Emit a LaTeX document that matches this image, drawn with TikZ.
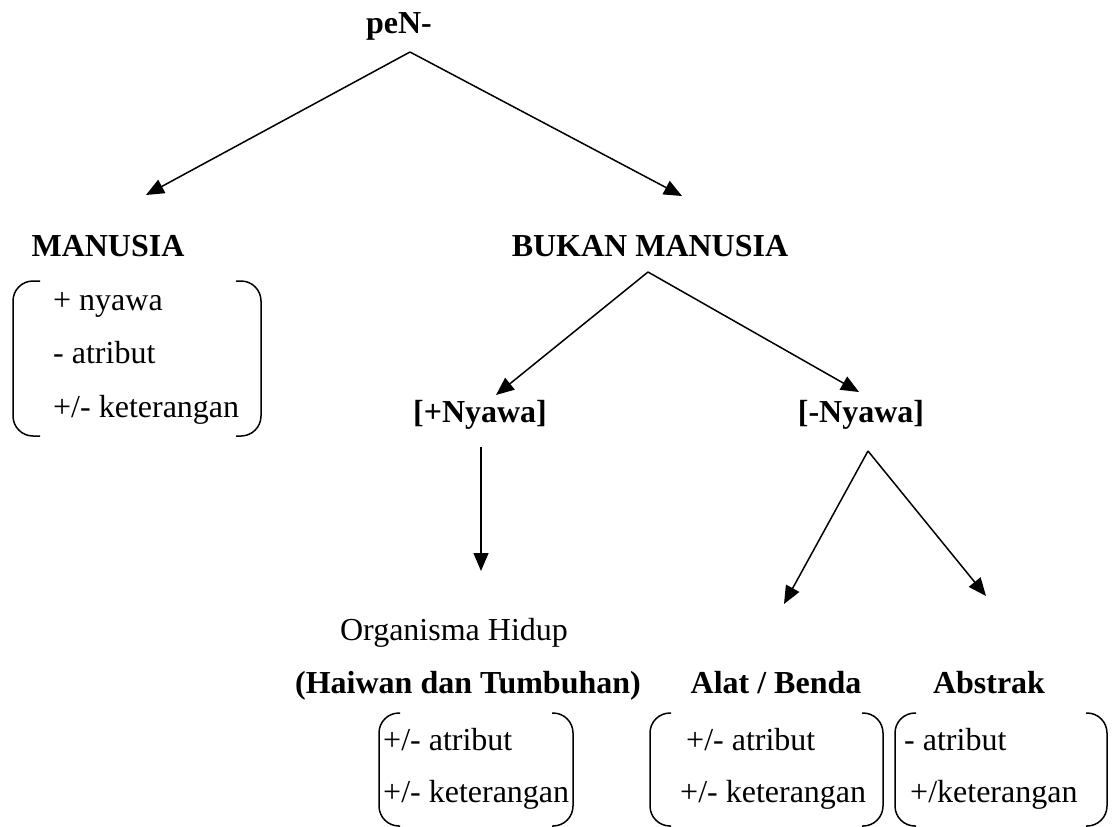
\documentclass[tikz,border=0pt]{standalone}
\usepackage{fontspec}
\setmainfont{Liberation Serif}
\usetikzlibrary{arrows.meta}
\begin{document}
\begin{tikzpicture}[x=1pt,y=-1pt,
  txt/.style={font=\fontsize{32}{38}\selectfont, inner sep=0pt, anchor=base},
  ltxt/.style={txt, anchor=base west},
  btxt/.style={txt, font=\fontsize{32}{38}\selectfont\bfseries},
  conn/.style={line width=1.5pt, -{Triangle[length=18pt,width=15pt]}},
  brk/.style={line width=1.5pt, rounded corners=20pt}]
\useasboundingbox (0,0) rectangle (1112,827);
% titles
\node[btxt] (pen) at (399,33) {peN-};
\node[btxt] (man) at (108,256) {MANUSIA};
\node[btxt] (bukan) at (650,256) {BUKAN MANUSIA};
\node[btxt] (plusn) at (480,422) {[+Nyawa]};
\node[btxt] (minn) at (861,422) {[-Nyawa]};
\node[txt] (org) at (454,640) {Organisma Hidup};
\node[btxt] (hai) at (468,693) {(Haiwan dan Tumbuhan)};
\node[btxt] (alat) at (776,693) {Alat / Benda};
\node[btxt] (abs) at (989,693) {Abstrak};
% box 1
\node[ltxt] (m1) at (53,310) {+ nyawa};
\node[ltxt] (m2) at (53,363) {- atribut};
\node[ltxt] (m3) at (53,417) {+/- keterangan};
\draw[brk] (40,281) -- (13,281) -- (13,436) -- (40,436);
\draw[brk] (236,281) -- (261,281) -- (261,436) -- (236,436);
% box 2
\node[ltxt] (h1) at (383,750) {+/- atribut};
\node[ltxt] (h2) at (383,802) {+/- keterangan};
\draw[brk] (400,713) -- (379,713) -- (379,826) -- (400,826);
\draw[brk] (552,713) -- (573,713) -- (573,826) -- (552,826);
% box 3
\node[ltxt] (a1) at (686,750) {+/- atribut};
\node[ltxt] (a2) at (680,802) {+/- keterangan};
\draw[brk] (671,713) -- (650,713) -- (650,826) -- (671,826);
\draw[brk] (862,713) -- (883,713) -- (883,826) -- (862,826);
% box 4
\node[ltxt] (b1) at (904,750) {- atribut};
\node[ltxt] (b2) at (910,802) {+/keterangan};
\draw[brk] (916,713) -- (895,713) -- (895,826) -- (916,826);
\draw[brk] (1086,713) -- (1107,713) -- (1107,826) -- (1086,826);
% connector points
\coordinate (penapex) at (410,52);
\coordinate (mantip) at (146,195);
\coordinate (bukantip) at (682,196);
\coordinate (bukapex) at (648,272);
\coordinate (plustip) at (496,395);
\coordinate (mintip) at (859,392);
\coordinate (downtop) at (481,447);
\coordinate (downtip) at (481,571);
\coordinate (minapex) at (868,451);
\coordinate (alattip) at (784,604);
\coordinate (abstip) at (986,596);
\draw[conn] (penapex) -- (mantip);
\draw[conn] (penapex) -- (bukantip);
\draw[conn] (bukapex) -- (plustip);
\draw[conn] (bukapex) -- (mintip);
\draw[conn] (downtop) -- (downtip);
\draw[conn] (minapex) -- (alattip);
\draw[conn] (minapex) -- (abstip);
\end{tikzpicture}
\end{document}
